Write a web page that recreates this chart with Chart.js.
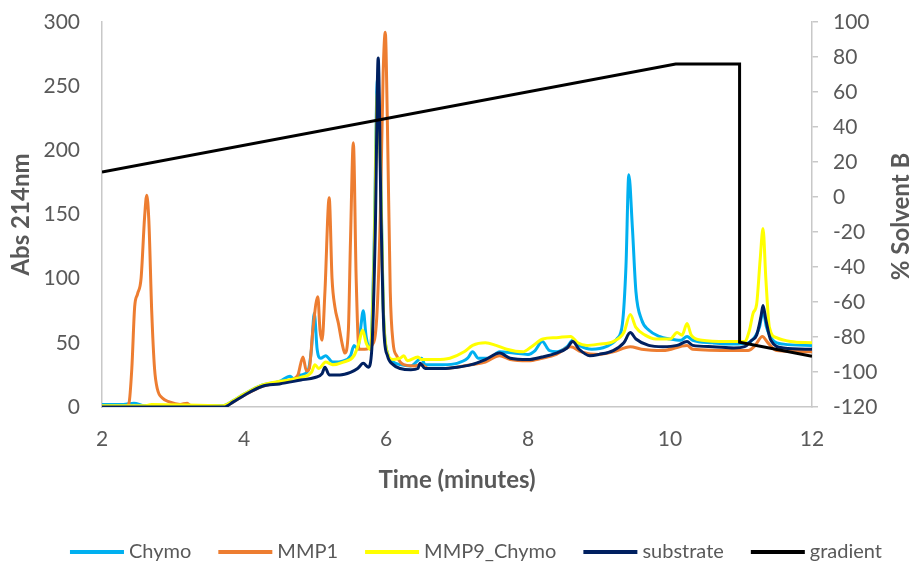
<!DOCTYPE html>
<html>
<head>
<meta charset="utf-8">
<script src="https://cdn.jsdelivr.net/npm/chart.js@4.4.1/dist/chart.umd.min.js"></script>
<style>
  html, body { margin: 0; padding: 0; background: #ffffff; }
  #wrap { width: 911px; height: 565px; }
</style>
</head>
<body>
<div id="wrap"><canvas id="c" width="911" height="565"></canvas></div>
<script>
// ---- Data ----
const seriesNames = ['Chymo', 'MMP1', 'MMP9_Chymo', 'substrate', 'gradient'];

const chymoTime = [2.0,2.3,2.45,2.6,3.7,3.85,4.0,4.25,4.5,4.65,4.7,4.8,4.9,4.95,4.99,5.03,5.08,5.15,5.25,5.4,5.5,5.55,5.6,5.64,5.68,5.72,5.78,5.83,5.88,5.92,5.96,6.02,6.1,6.2,6.35,6.5,6.55,6.8,7.0,7.15,7.22,7.3,7.45,7.6,7.8,8.0,8.1,8.2,8.3,8.4,8.55,8.63,8.72,8.9,9.1,9.25,9.33,9.38,9.42,9.47,9.52,9.6,9.7,9.85,10.0,10.15,10.24,10.32,10.6,10.9,11.1,11.2,11.26,11.31,11.36,11.45,11.6,12.0];
const chymoAbs  = [2,2,3,1,1,5,10,17,20,24,22,25,28,45,73,45,38,40,35,36,40,48,45,60,75,55,45,120,255,200,80,42,35,33,32,38,33,33,34,38,43,38,38,43,42,41,44,51,44,43,47,52,48,45,47,53,65,110,181,140,90,68,60,55,53,52,55,52,50,49,50,55,62,75,62,52,49,48];

const mmp1Time = [2.0,2.33,2.38,2.42,2.46,2.5,2.55,2.6,2.63,2.66,2.7,2.74,2.78,2.85,2.95,3.1,3.2,3.25,3.7,3.85,4.0,4.25,4.5,4.7,4.76,4.83,4.88,4.92,4.97,5.04,5.07,5.1,5.14,5.2,5.24,5.28,5.33,5.38,5.42,5.47,5.5,5.54,5.58,5.62,5.7,5.8,5.87,5.92,5.96,5.99,6.02,6.06,6.1,6.15,6.25,6.4,6.5,6.6,6.8,7.0,7.2,7.4,7.6,7.75,8.0,8.2,8.4,8.6,8.75,9.0,9.2,9.44,9.6,9.9,10.24,10.32,10.9,11.1,11.2,11.3,11.38,11.5,12.0];
const mmp1Abs  = [0,0,3,30,78,88,100,148,165,145,75,30,14,7,4,2,3,1,0,4,9,16,19,22,25,39,28,30,60,86,60,52,90,163,100,78,65,50,42,60,130,206,100,45,45,48,70,150,260,292,220,90,50,40,33,32,33,30,30,31,33,35,40,37,36,38,41,47,43,41,43,47,45,44,48,45,44,44,48,55,50,44,43];

const mmp9Time = [2.0,2.6,2.7,3.7,3.85,4.0,4.25,4.5,4.8,4.95,5.0,5.05,5.15,5.25,5.4,5.55,5.62,5.67,5.72,5.78,5.83,5.88,5.92,5.96,6.02,6.1,6.2,6.25,6.3,6.45,6.5,6.7,6.9,7.1,7.22,7.4,7.55,7.7,7.93,8.05,8.21,8.4,8.6,8.7,8.83,9.0,9.2,9.35,9.44,9.52,9.65,9.8,10.0,10.1,10.17,10.24,10.3,10.45,10.8,11.05,11.12,11.17,11.22,11.27,11.31,11.35,11.4,11.5,11.7,12.0];
const mmp9Abs  = [1,1,2,1,5,10,17,20,23,27,33,30,35,33,35,40,50,60,50,45,110,245,190,80,42,37,38,40,36,39,37,37,38,43,48,50,48,45,43,47,53,54,55,50,48,49,51,58,72,62,56,53,53,58,56,65,56,52,51,51,60,73,80,115,139,100,62,54,51,50];

const substrateTime = [2.0,3.72,3.85,4.0,4.25,4.5,4.8,5.0,5.1,5.14,5.2,5.35,5.5,5.6,5.68,5.75,5.8,5.85,5.89,5.93,5.97,6.02,6.1,6.2,6.35,6.45,6.48,6.55,6.8,7.0,7.2,7.4,7.6,7.75,8.0,8.2,8.4,8.55,8.63,8.72,8.87,9.0,9.2,9.35,9.44,9.52,9.7,9.9,10.1,10.24,10.32,10.6,10.9,11.05,11.15,11.22,11.28,11.31,11.35,11.42,11.6,12.0];
const substrateAbs  = [0,0,4,9,16,18,21,23,26,31,25,25,27,30,34,31,45,140,272,150,60,40,33,30,29,30,34,30,30,31,33,37,42,38,37,39,42,46,51,45,40,41,44,50,58,53,48,47,48,51,48,47,46,47,52,56,70,79,68,52,46,45];

const gradientTime = [2.0,10.08,10.98,10.98,12.0];
const gradientPct  = [14.3,76,76,-83,-91];

const xTicks = [2,4,6,8,10,12];
const yLeftRange = [0,300,50];
const yRightRange = [-120,100,20];

// ---- Build ----
const pts = (t, v) => t.slice(0, Math.min(t.length, v.length)).map((x, i) => ({x: x, y: v[i]}));
const colors = ['#00B0F0', '#ED7D31', '#FFFF00', '#002060', '#000000'];
const FONT = 'Lato';
const GREY = '#595959';

const mk = (i, data, axis, order) => ({
  label: seriesNames[i],
  data: data,
  yAxisID: axis,
  borderColor: colors[i],
  backgroundColor: colors[i],
  borderWidth: 3,
  pointRadius: 0,
  pointHoverRadius: 0,
  fill: false,
  order: order,
  cubicInterpolationMode: axis === 'y' ? 'monotone' : 'default',
  tension: 0
});

// Right axis title (reads bottom-to-top like the reference)
const rightTitle = {
  id: 'rightTitle',
  afterDraw(chart) {
    const ctx = chart.ctx, ca = chart.chartArea;
    ctx.save();
    ctx.translate(chart.scales.y2.right - 10, (ca.top + ca.bottom) / 2 + 2);
    ctx.rotate(-Math.PI / 2);
    ctx.font = 'bold 24px ' + FONT;
    ctx.fillStyle = GREY;
    ctx.textAlign = 'center';
    ctx.textBaseline = 'middle';
    ctx.fillText('% Solvent B', 0, 0);
    ctx.restore();
  }
};

// Legend row below the axis title, built from the chart's datasets
const bottomLegend = {
  id: 'bottomLegend',
  afterDraw(chart) {
    const ctx = chart.ctx;
    const sw = 54, gapText = 5, gapItem = 27, y = 552;
    ctx.save();
    ctx.font = '20px ' + FONT;
    const ds = chart.data.datasets;
    let total = 0;
    ds.forEach((d, i) => { total += sw + gapText + ctx.measureText(d.label).width + (i < ds.length - 1 ? gapItem : 0); });
    let x = 476 - total / 2;
    ds.forEach((d) => {
      ctx.fillStyle = d.borderColor;
      ctx.fillRect(x, y - 2, sw, 4);
      x += sw + gapText;
      ctx.fillStyle = GREY;
      ctx.textAlign = 'left';
      ctx.textBaseline = 'middle';
      ctx.fillText(d.label, x, y);
      x += ctx.measureText(d.label).width + gapItem;
    });
    ctx.restore();
  }
};

const noVPad = s => { s.paddingTop = 0; s.paddingBottom = 0; };

new Chart(document.getElementById('c'), {
  type: 'line',
  data: {
    datasets: [
      mk(0, pts(chymoTime, chymoAbs), 'y', 5),
      mk(1, pts(mmp1Time, mmp1Abs), 'y', 4),
      mk(2, pts(mmp9Time, mmp9Abs), 'y', 3),
      mk(3, pts(substrateTime, substrateAbs), 'y', 2),
      mk(4, pts(gradientTime, gradientPct), 'y2', 1)
    ]
  },
  options: {
    responsive: false,
    animation: false,
    devicePixelRatio: 1,
    layout: { padding: { top: 22, left: 0, right: 0, bottom: 0 } },
    plugins: {
      tooltip: { enabled: false },
      legend: { display: false }
    },
    scales: {
      x: {
        type: 'linear',
        min: 2, max: 12,
        afterBuildTicks: s => { s.ticks = xTicks.map(v => ({value: v})); },
        afterFit: s => { s.height = 158; },
        grid: { display: false, drawTicks: false },
        border: { display: true, color: '#c8c8c8', width: 1.5 },
        ticks: { padding: 20, color: GREY, font: { family: FONT, size: 21 }, maxRotation: 0 },
        title: { display: true, text: 'Time (minutes)', color: GREY, font: { family: FONT, size: 24, weight: 'bold' }, padding: { top: 0, bottom: 70 } }
      },
      y: {
        type: 'linear',
        position: 'left',
        min: yLeftRange[0], max: yLeftRange[1],
        ticks: { stepSize: yLeftRange[2], padding: 22, color: GREY, font: { family: FONT, size: 21 } },
        afterFit: s => { s.width = 102; noVPad(s); },
        grid: { display: false, drawTicks: false },
        border: { display: true, color: '#c8c8c8', width: 1.5 },
        title: { display: true, text: 'Abs 214nm', color: GREY, font: { family: FONT, size: 24, weight: 'bold' }, padding: { top: 7, bottom: 0 } }
      },
      y2: {
        type: 'linear',
        position: 'right',
        min: yRightRange[0], max: yRightRange[1],
        ticks: { stepSize: yRightRange[2], padding: 15, color: GREY, font: { family: FONT, size: 21 } },
        afterFit: s => { s.width = 99; noVPad(s); },
        grid: { display: true, drawOnChartArea: false, drawTicks: true, tickLength: 6, color: '#c8c8c8', lineWidth: 1.5 },
        border: { display: true, color: '#c8c8c8', width: 1.5 },
        title: { display: false }
      }
    }
  },
  plugins: [rightTitle, bottomLegend]
});
</script>
</body>
</html>
